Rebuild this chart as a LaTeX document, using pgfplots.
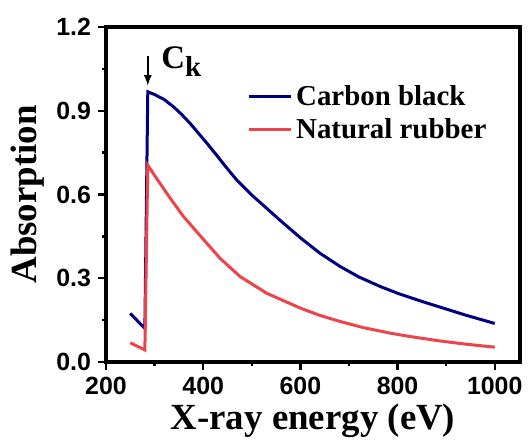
\documentclass[border=0pt]{standalone}
\usepackage{pgfplots}
\pgfplotsset{compat=1.18}
\usepackage{fontspec}
\setmainfont{Liberation Serif}
\newfontfamily\arialf{Liberation Sans}
\definecolor{cbblue}{RGB}{0,0,128}
\definecolor{nrred}{RGB}{236,68,74}
\begin{document}
\begin{tikzpicture}
\begin{axis}[
  scale only axis,
  width=207bp, height=167.5bp,
  xmin=200, xmax=1052, ymin=0, ymax=1.2,
  xtick={200,400,600,800,1000},
  ytick={0,0.3,0.6,0.9,1.2},
  minor x tick num=1, minor y tick num=1,
  tick pos=left, tick align=outside,
  major tick length=4bp, minor tick length=2bp,
  every tick/.style={black, line width=1.2bp},
  axis line style={line width=1.7bp},
  /pgf/number format/assume math mode=true,
  yticklabel style={/pgf/number format/.cd, fixed, fixed zerofill, precision=1},
  xticklabel style={/pgf/number format/.cd, fixed, set thousands separator={}},
  tick label style={font=\arialf\bfseries\fontsize{12.5}{12.5}\selectfont},
  label style={font=\bfseries\fontsize{18.5}{18.5}\selectfont},
  xlabel={X-ray energy (eV)},
  ylabel={Absorption},
  xlabel style={yshift=2bp},
  ylabel style={yshift=-1bp},
  legend style={at={(rel axis cs:0.34,0.84)}, anchor=north west, draw=none, fill=none,
    font=\bfseries\fontsize{14.5}{14.5}\selectfont, row sep=1bp, inner sep=0pt},
  legend cell align=left,
  legend image code/.code={\draw[#1, line width=1.5bp] (0bp,0bp) -- (21bp,0bp);},
]
\addplot[cbblue, line width=1.5bp] coordinates {
(250,0.174) (280,0.12) (286,0.968) (300,0.958) (320,0.94) (339,0.914) (355,0.888)
(373,0.855) (390,0.82) (408,0.783) (428,0.74) (449,0.694) (470,0.65) (500,0.598)
(531,0.55) (560,0.505) (600,0.445) (640,0.39) (682,0.342) (720,0.305) (765,0.27)
(802,0.245) (850,0.217) (885,0.198) (940,0.168) (1000,0.138)
};
\addlegendentry{Carbon black}
\addplot[nrred, line width=1.5bp] coordinates {
(250,0.069) (280,0.043) (286,0.705) (300,0.668) (330,0.592) (359,0.522) (400,0.44)
(435,0.371) (476,0.306) (531,0.246) (600,0.193) (640,0.167) (682,0.145) (730,0.123)
(786,0.103) (830,0.09) (885,0.076) (940,0.064) (1000,0.053)
};
\addlegendentry{Natural rubber}
\draw[-latex, line width=0.8bp] (axis cs:286,1.095) -- (axis cs:286,0.99);
\node[anchor=base west, inner sep=0pt, font=\bfseries\fontsize{16.5}{16.5}\selectfont]
  at (axis cs:313,1.05) {C\raisebox{-4bp}{\fontsize{14.5}{14.5}\selectfont k}};
\end{axis}
\pgfresetboundingbox
\useasboundingbox ([shift={(-53bp,-39.5bp)}]current axis.south west) rectangle ([shift={(212.5bp,181bp)}]current axis.south west);
\end{tikzpicture}
\end{document}
